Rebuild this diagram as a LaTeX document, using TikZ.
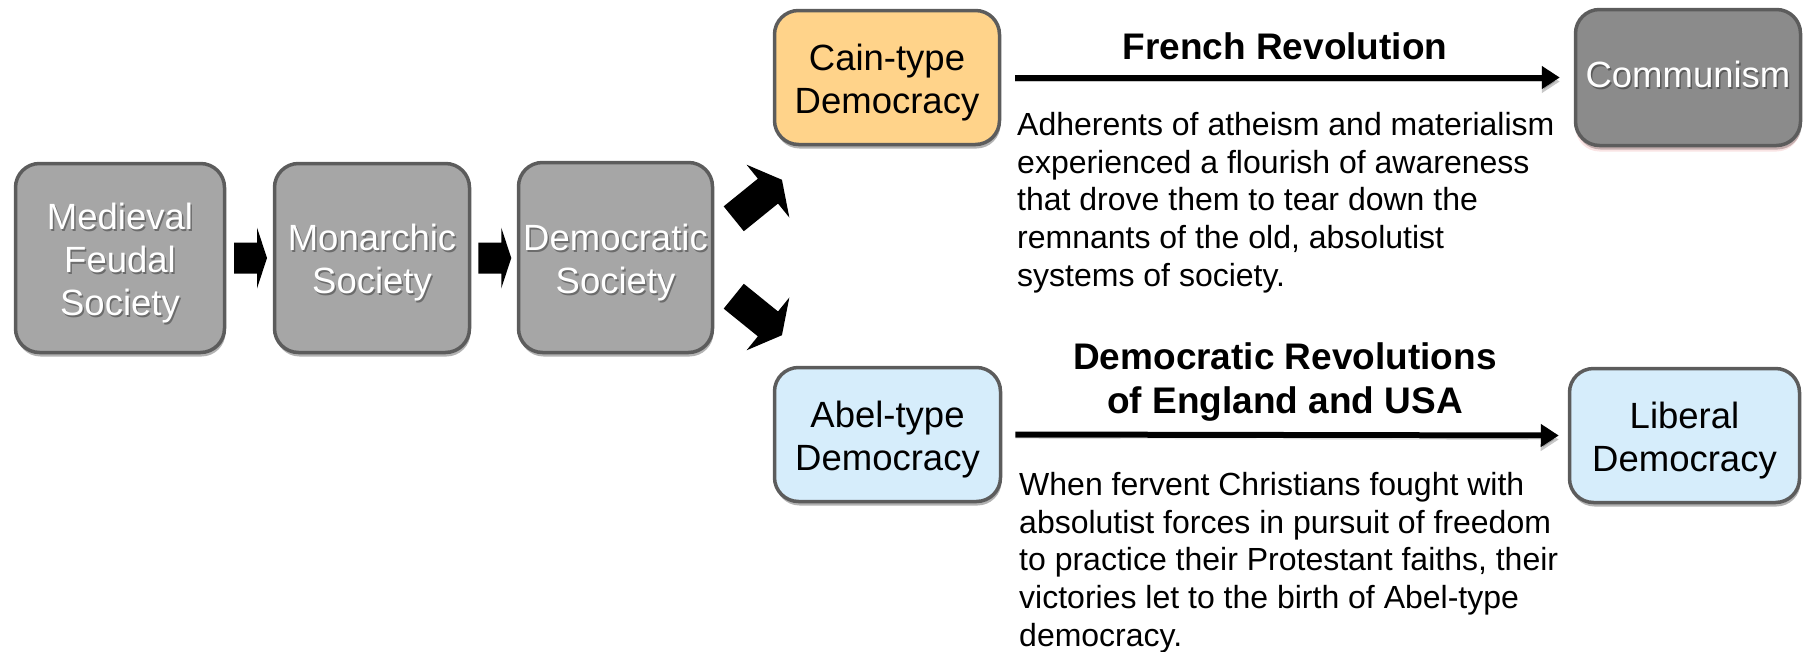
\documentclass[tikz,border=0pt]{standalone}
\usepackage{fontspec}
\setmainfont{Liberation Sans}
\usetikzlibrary{shadows,calc,arrows.meta}
\definecolor{boxgray}{HTML}{A6A6A6}
\definecolor{commgray}{HTML}{8B8B8B}
\definecolor{bordergray}{HTML}{5C5C5C}
\definecolor{cainfill}{HTML}{FFD38A}
\definecolor{abelfill}{HTML}{D6EDFB}
\definecolor{pinkshadow}{HTML}{EBA5A5}
\tikzset{
  stage/.style={draw=bordergray, line width=3.5pt, rounded corners=24pt, inner sep=0pt,
    drop shadow={shadow xshift=1pt, shadow yshift=-4pt, opacity=0.3, fill=black}},
  graystage/.style={stage, fill=boxgray},
  stagetext/.style={inner sep=0pt, align=center, font=\fontsize{36.5}{43}\selectfont},
  whitetext/.style={stagetext, text=white},
  textshadow/.style={stagetext, text=black, opacity=0.35},
  lbl/.style={inner sep=0pt, align=center, font=\bfseries\fontsize{37}{44}\selectfont},
  body/.style={inner sep=0pt, align=left, font=\fontsize{32}{37.7}\selectfont},
  revarrow/.style={line width=6pt, -{Triangle[length=18pt,width=22pt]},
    preaction={draw, opacity=0.22, transform canvas={yshift=-4pt}}},
}
\begin{document}
\begin{tikzpicture}[x=1pt,y=-1pt]
\useasboundingbox (0,0) rectangle (1808,651);

% society stages
\node[graystage, minimum width=209pt, minimum height=189pt] (med) at (120,258) {};
\node[graystage, minimum width=195pt, minimum height=189pt] (mon) at (372,258) {};
\node[graystage, minimum width=194pt, minimum height=190pt] (dem) at (615.5,257.5) {};
\node[stage, fill=commgray, minimum width=225pt, minimum height=136pt,
      drop shadow={shadow xshift=0pt, shadow yshift=-6pt, opacity=0.3, fill=pinkshadow}] (comm) at (1688,77.5) {};

\node[textshadow] (medS) at ([xshift=1.5pt,yshift=-7pt]med.center) {Medieval\\Feudal\\Society};
\node[whitetext] (medT) at ([yshift=-5pt]med.center) {Medieval\\Feudal\\Society};
\node[textshadow] (monS) at ([xshift=1.5pt,yshift=-7pt]mon.center) {Monarchic\\Society};
\node[whitetext] (monT) at ([yshift=-5pt]mon.center) {Monarchic\\Society};
\node[textshadow] (demS) at ([xshift=1.5pt,yshift=-7pt]dem.center) {Democratic\\Society};
\node[whitetext] (demT) at ([yshift=-5pt]dem.center) {Democratic\\Society};
\node[textshadow] (commS) at ([xshift=1.5pt,yshift=1pt]comm.center) {Communism};
\node[whitetext] (commT) at ([yshift=3pt]comm.center) {Communism};

\node[stage, fill=cainfill, minimum width=225pt, minimum height=134pt] (cain) at (887,77.5) {};
\node[stagetext] (cainT) at ([yshift=-5pt]cain.center) {Cain-type\\Democracy};
\node[stage, fill=abelfill, minimum width=226pt, minimum height=134pt] (abel) at (887.5,434.5) {};
\node[stagetext] (abelT) at ([yshift=-5pt]abel.center) {Abel-type\\Democracy};
\node[stage, fill=abelfill, minimum width=230pt, minimum height=134pt] (lib) at (1684.5,435.5) {};
\node[stagetext] (libT) at ([yshift=-5pt]lib.center) {Liberal\\Democracy};

% block arrows between stages
\fill[shift={($(med.east)+(7.75,0)$)}] (0,-15.5) -- (23,-15.5) -- (23,-30.5) -- (33,0) -- (23,30.5) -- (23,15.5) -- (0,15.5) -- cycle;
\fill[shift={($(mon.east)+(7,0)$)}] (0,-15.5) -- (23,-15.5) -- (23,-30.5) -- (33,0) -- (23,30.5) -- (23,15.5) -- (0,15.5) -- cycle;
\fill[shift={($(dem.east)+(19.5,-38.7)$)}, rotate=39] (0,-16) -- (44,-16) -- (44,-34) -- (62,0) -- (44,34) -- (44,16) -- (0,16) -- cycle;
\fill[shift={($(dem.east)+(19.5,38.7)$)}, rotate=-39] (0,-16) -- (44,-16) -- (44,-34) -- (62,0) -- (44,34) -- (44,16) -- (0,16) -- cycle;

% revolutions
\draw[revarrow] ([xshift=14pt]cain.east) -- ([xshift=-14pt]comm.west);
\draw[revarrow] ([xshift=13pt]abel.east) -- ([xshift=-9pt]lib.west);

\node[lbl, anchor=base] (fr) at (1285,59) {French Revolution};
\node[lbl, anchor=north] (dr) at (1285,342) {Democratic Revolutions\\of England and USA};

\node[body, anchor=north west] (ctext) at (1017,112) {Adherents of atheism and materialism\\experienced a flourish of awareness\\that drove them to tear down the\\remnants of the old, absolutist\\systems of society.};
\node[body, anchor=north west] (atext) at (1019,472) {When fervent Christians fought with\\absolutist forces in pursuit of freedom\\to practice their Protestant faiths, their\\victories let to the birth of Abel-type\\democracy.};
\end{tikzpicture}
\end{document}
